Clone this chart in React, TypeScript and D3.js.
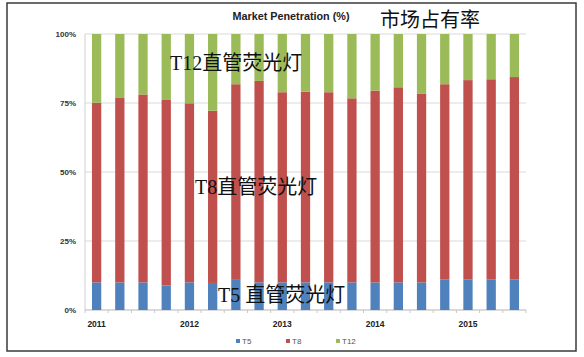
import React from "react";
import * as d3 from "d3";

const categories = [
  "2011Q1","2011Q2","2011Q3","2011Q4",
  "2012Q1","2012Q2","2012Q3","2012Q4",
  "2013Q1","2013Q2","2013Q3","2013Q4",
  "2014Q1","2014Q2","2014Q3","2014Q4",
  "2015Q1","2015Q2","2015Q3",
];
const t5 = [10, 10, 10, 8.9, 10, 9.8, 11.2, 10, 10, 10, 10, 10, 10, 10, 10, 11, 11, 11, 11];
const t8 = [65.1, 66.8, 68.1, 67.2, 64.9, 62.4, 70.6, 73, 68.9, 69.1, 68.9, 66.7, 69.5, 70.7, 68.3, 70.8, 72.3, 72.6, 73.4];
const t12 = [24.9, 23.2, 21.9, 23.9, 25.1, 27.8, 18.2, 17, 21.1, 20.9, 21.1, 23.3, 20.5, 19.3, 21.7, 18.2, 16.7, 16.4, 15.6];
const seriesNames = ["T5", "T8", "T12"];
const yTicks = [0, 25, 50, 75, 100];
const yearLabels = ["2011", "2012", "2013", "2014", "2015"];
const yearIndex = [0, 4, 8, 12, 16];

const colors = ["#4F81BD", "#C0504D", "#9BBB59"];

export default function App() {
  const W = 584, H = 357;
  const x = d3.scaleBand<string>().domain(categories).range([85, 526]).paddingInner(0.6).paddingOuter(0.3);
  const y = d3.scaleLinear().domain([0, 100]).range([310, 34]);
  const rows = categories.map((c, i) => ({ cat: c, T5: t5[i], T8: t8[i], T12: t12[i] }));
  const stacked = d3.stack<any>().keys(seriesNames)(rows);
  const step = x.step();
  const labelFont = "'Liberation Sans', Arial, sans-serif";
  const cjkFont = "'Liberation Serif', 'Noto Sans CJK SC', serif";

  return (
    <svg width={W} height={H} style={{ position: "absolute", left: 0, top: 0, background: "#fff" }}>
      <rect x={0} y={0} width={W} height={H} fill="#fff" />
      <rect x={7} y={3} width={569} height={348} fill="#fff" stroke="#3a3a3a" strokeWidth={1.5} />
      {/* gridlines */}
      {yTicks.map((t) => (
        <line key={t} x1={85} x2={526} y1={y(t)} y2={y(t)} stroke="#d9d9d9" strokeWidth={1} />
      ))}
      {/* axes */}
      <line x1={85} x2={85} y1={y(100)} y2={y(0)} stroke="#d0d0d0" strokeWidth={1} />
      <line x1={85} x2={526} y1={y(0)} y2={y(0)} stroke="#c8c8c8" strokeWidth={1} />
      {categories.map((c, i) => (
        <line key={c} x1={85 + step * i} x2={85 + step * i} y1={y(0)} y2={y(0) + 3} stroke="#c8c8c8" />
      ))}
      <line x1={526} x2={526} y1={y(0)} y2={y(0) + 3} stroke="#c8c8c8" />
      {/* bars */}
      {stacked.map((s, si) => (
        <g key={s.key} fill={colors[si]}>
          {s.map((d, i) => (
            <rect key={i} x={x(categories[i])} y={y(d[1])} width={x.bandwidth()} height={y(d[0]) - y(d[1])} />
          ))}
        </g>
      ))}
      {/* y tick labels */}
      {yTicks.map((t) => (
        <text key={t} x={76} y={y(t)} dy="0.35em" textAnchor="end" fontFamily={labelFont} fontWeight="bold" fontSize={8} fill="#333">
          {t}%
        </text>
      ))}
      {/* x labels */}
      {yearLabels.map((l, i) => (
        <text key={l} x={(x(categories[yearIndex[i]]) as number) + x.bandwidth() / 2} y={324} dy="0.35em" textAnchor="middle" fontFamily={labelFont} fontWeight="bold" fontSize={8.5} fill="#222">
          {l}
        </text>
      ))}
      {/* title */}
      <text x={291} y={16} dy="0.35em" textAnchor="middle" fontFamily={labelFont} fontWeight="bold" fontSize={10.8} fill="#222">
        Market Penetration (%)
      </text>
      <text x={380} y={20} dy="0.35em" fontFamily="'Noto Sans CJK SC', sans-serif" fontSize={20} fill="#111">
        市场占有率
      </text>
      {/* legend */}
      {seriesNames.map((n, i) => {
        const lx = [236, 286, 336][i];
        return (
          <g key={n}>
            <rect x={lx} y={339} width={4} height={4} fill={colors[i]} />
            <text x={lx + 6} y={341} dy="0.35em" fontFamily={labelFont} fontSize={8} fill="#555">{n}</text>
          </g>
        );
      })}
      {/* annotations */}
      <text x={170} y={63} dy="0.35em" fontFamily={cjkFont} fontSize={20} fill="#111">T12直管荧光灯</text>
      <text x={195} y={187} dy="0.35em" fontFamily={cjkFont} fontSize={20} fill="#111">T8直管荧光灯</text>
      <text x={218} y={295} dy="0.35em" fontFamily={cjkFont} fontSize={20} fill="#111">T5 直管荧光灯</text>
    </svg>
  );
}
